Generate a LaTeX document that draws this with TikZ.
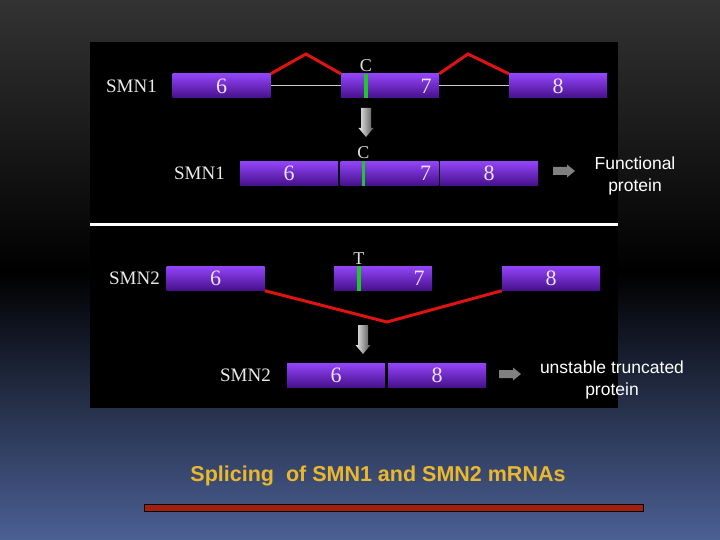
\documentclass[tikz,border=0pt]{standalone}
\usepackage{fontspec}
\setmainfont{Liberation Serif}
\setsansfont{Liberation Sans}
\usepackage{tikz}

\definecolor{exontop}{RGB}{146,68,248}
\definecolor{exonbot}{RGB}{70,16,138}
\definecolor{numcol}{RGB}{236,226,250}
\definecolor{splicered}{RGB}{222,20,20}
\definecolor{snpgreen}{RGB}{30,200,40}
\definecolor{titlegold}{RGB}{234,184,46}
\definecolor{barred}{RGB}{165,30,15}
\definecolor{bgtop}{RGB}{51,51,51}
\definecolor{bgbot}{RGB}{75,96,148}

\begin{document}
\begin{tikzpicture}[x=1pt,y=-1pt,
	exon_box/.style={rectangle,minimum width=98pt,minimum height=24pt,inner sep=0pt,top color=exontop,bottom color=exonbot,text=numcol,font=\fontsize{22}{22}\selectfont},
	exon_num/.style={inner sep=0pt,text=numcol,font=\fontsize{22}{22}\selectfont},
	gene_label/.style={anchor=east,inner sep=0pt,text=white!92!black,font=\fontsize{19}{19}\selectfont},
	base_label/.style={anchor=south,inner sep=2pt,text=white!88!black,font=\fontsize{18}{18}\selectfont},
	snp_mark/.style={draw=snpgreen,line width=3.5pt},
	intron_line/.style={draw=white!80!black,line width=1pt},
	splice_line/.style={draw=splicered,line width=3pt,line join=miter},
	down_arrow/.pic={\shade[left color=gray!15,right color=gray!65!black] (-5,0) -- (5,0) -- (5,20) -- (7.5,20) -- (0,29) -- (-7.5,20) -- (-5,20) -- cycle;},
	right_arrow/.pic={\fill[gray] (0,-4) -- (14,-4) -- (14,-6.5) -- (22,0) -- (14,6.5) -- (14,4) -- (0,4) -- cycle;},
	outcome_text/.style={align=center,text=white,font=\sffamily\fontsize{17.5}{22}\selectfont}]
	\useasboundingbox (0,0) rectangle (720,540);
	% background
	\shade[top color=bgtop,bottom color=black] (0,0) rectangle (720,272);
	\shade[top color=black,bottom color=bgbot] (0,272) rectangle (720,540);
	\fill[black] (90,42) rectangle (618,408);
	\draw[white,line width=3pt] (90,225) -- (618,225);
	
	% SMN1 pre-mRNA
	\node[gene_label] (g1) at (157,86) {SMN1};
	\node[exon_box] (s1e6) at (221.5,86) {6};
	\node[exon_box] (s1e7) at (390,86) {};
	\node[exon_box] (s1e8) at (558,86) {8};
	\node[exon_num] (n1) at ([xshift=-13pt]s1e7.east) {7};
	\draw[snp_mark] ([xshift=25pt]s1e7.north west) -- ([xshift=25pt]s1e7.south west);
	\node[base_label] (c1) at ([xshift=25pt]s1e7.north west) {C};
	\draw[intron_line] (s1e6) -- (s1e7);
	\draw[intron_line] (s1e7) -- (s1e8);
	\coordinate (p1) at (306,54);
	\coordinate (p2) at (468,54);
	\draw[splice_line] (s1e6.north east) -- (p1) -- (s1e7.north west);
	\draw[splice_line] (s1e7.north east) -- (p2) -- (s1e8.north west);
	\pic (a1) at (366,108) {down_arrow};
	
	% SMN1 mRNA
	\node[gene_label] (g2) at (225,173.5) {SMN1};
	\node[exon_box] (m1e6) at (289,173.5) {6};
	\node[exon_box] (m1e7) at (389.5,173.5) {};
	\node[exon_box] (m1e8) at (489,173.5) {8};
	\node[exon_num] (n2) at ([xshift=-13pt]m1e7.east) {7};
	\draw[snp_mark] ([xshift=23pt]m1e7.north west) -- ([xshift=23pt]m1e7.south west);
	\node[base_label] (c2) at ([xshift=23pt]m1e7.north west) {C};
	\pic (r1) at (553,171) {right_arrow};
	\node[outcome_text] (o1) at (635,176) {Functional\\protein};
	
	% SMN2 pre-mRNA
	\node[gene_label] (g3) at (160,278.5) {SMN2};
	\node[exon_box] (s2e6) at (215.5,278.5) {6};
	\node[exon_box] (s2e7) at (383,278.5) {};
	\node[exon_box] (s2e8) at (551,278.5) {8};
	\node[exon_num] (n3) at ([xshift=-13pt]s2e7.east) {7};
	\draw[snp_mark] ([xshift=25pt]s2e7.north west) -- ([xshift=25pt]s2e7.south west);
	\node[base_label] (t1) at ([xshift=25pt]s2e7.north west) {T};
	\coordinate (p3) at (387,322);
	\draw[splice_line] (s2e6.south east) -- (p3) -- (s2e8.south west);
	\pic (a2) at (363,325) {down_arrow};
	
	% SMN2 mRNA
	\node[gene_label] (g4) at (271,375.5) {SMN2};
	\node[exon_box] (m2e6) at (336,375.5) {6};
	\node[exon_box] (m2e8) at (437,375.5) {8};
	\pic (r2) at (499,374) {right_arrow};
	\node[outcome_text] (o2) at (612,380) {unstable truncated\\protein};
	
	% title
	\node[text=titlegold,font=\sffamily\bfseries\fontsize{21.5}{24}\selectfont] (title) at (378,476) {Splicing\ \ of SMN1 and SMN2 mRNAs};
	\draw[black,fill=barred] (144,504) rectangle (643,511);
\end{tikzpicture}
\end{document}
